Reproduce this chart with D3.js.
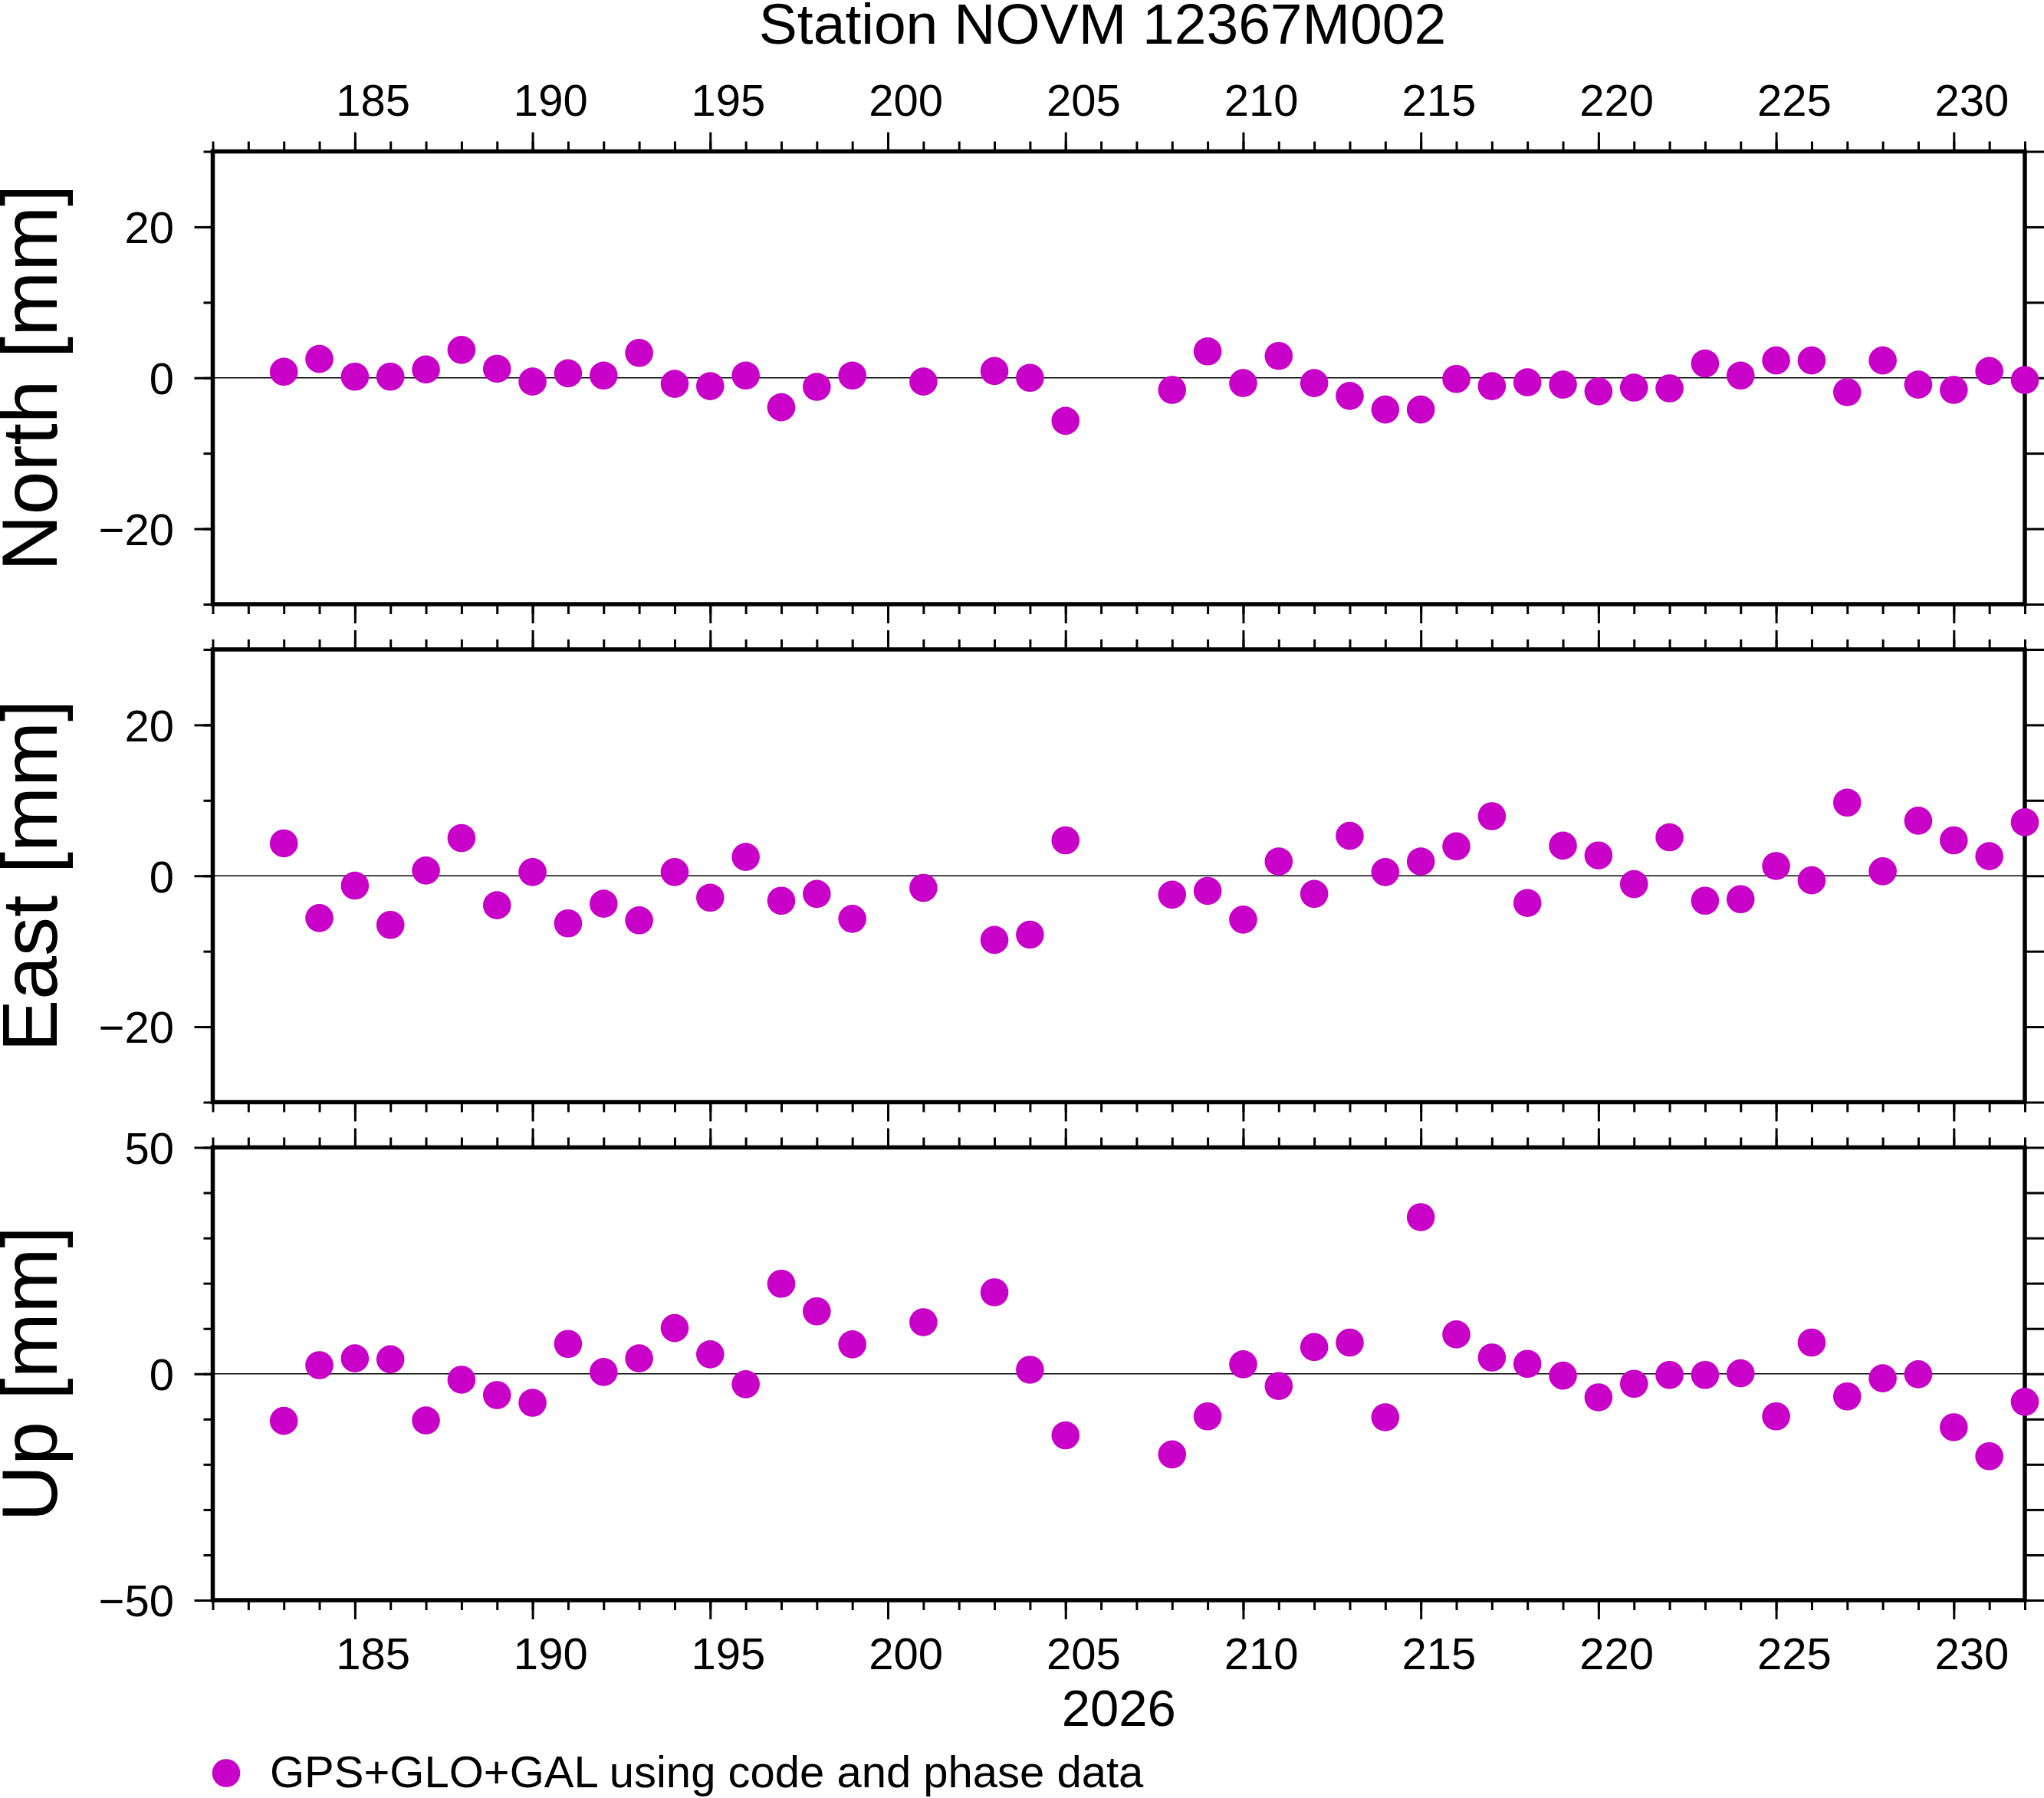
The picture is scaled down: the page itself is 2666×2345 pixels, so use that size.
<!DOCTYPE html>
<html>
<head>
<meta charset="utf-8">
<script src="https://cdn.jsdelivr.net/npm/d3@7"></script>
<style>
  body { margin: 0; background: #fff; }
  text { font-family: "Liberation Sans", Arial, Helvetica, sans-serif; fill: #000; }
</style>
</head>
<body>
<div id="graph"></div>
<script>
const width = 2666;
const height = 2345;

// day of year 2026
const days = [183, 184, 185, 186, 187, 188, 189, 190, 191, 192, 193, 194, 195, 196, 197, 198, 199,
    201, 203, 204, 205,
    208, 209, 210, 211, 212, 213, 214, 215, 216, 217, 218, 219, 220, 221, 222, 223, 224, 225, 226,
    227, 228, 229, 230, 231, 232];

const north = [0.8, 2.5, 0.15, 0.15, 1.1, 3.7, 1.2, -0.5, 0.6, 0.3, 3.3, -0.8, -1.1, 0.3, -3.9, -1.2, 0.3,
    -0.5, 0.9, 0.0, -5.7,
    -1.6, 3.5, -0.7, 2.9, -0.7, -2.4, -4.2, -4.2, -0.15, -1.1, -0.6, -0.9, -1.8, -1.3, -1.4, 1.9, 0.3, 2.3, 2.3,
    -1.9, 2.3, -0.9, -1.6, 0.9, -0.3];

const east = [4.3, -5.6, -1.3, -6.5, 0.7, 5.0, -3.9, 0.5, -6.3, -3.7, -5.9, 0.5, -2.9, 2.5, -3.3, -2.4, -5.7,
    -1.6, -8.5, -7.8, 4.7,
    -2.5, -2.0, -5.8, 1.9, -2.4, 5.3, 0.5, 1.9, 3.9, 7.9, -3.6, 4.0, 2.7, -1.1, 5.1, -3.3, -3.1, 1.3, -0.6,
    9.7, 0.6, 7.3, 4.7, 2.6, 7.1];

const up = [-10.4, 1.9, 3.4, 3.2, -10.3, -1.3, -4.7, -6.4, 6.6, 0.4, 3.4, 10.1, 4.3, -2.3, 19.9, 13.8, 6.5,
    11.4, 18.0, 0.9, -13.6,
    -17.8, -9.4, 2.1, -2.7, 5.9, 6.9, -9.6, 34.6, 8.7, 3.6, 2.2, -0.4, -5.2, -2.2, -0.25, -0.25, 0.1, -9.4, 6.9,
    -5.0, -1.0, -0.1, -11.8, -18.2, -6.2];

const dayRange = [181, 232];
const dayLabels = [185, 190, 195, 200, 205, 210, 215, 220, 225, 230];

const panelNames = ["North [mm]", "East [mm]", "Up [mm]"];
const panelValues = [north, east, up];
const panelDomains = [[-30, 30], [-30, 30], [-50, 50]];
const panelMajor = [[-20, 0, 20], [-20, 0, 20], [-50, 0, 50]];
const panelMinor = [[-30, -20, -10, 0, 10, 20, 30], [-30, -20, -10, 0, 10, 20, 30], d3.range(-50, 51, 10)];

const title = "Station NOVM 12367M002";
const yearLabel = "2026";
const legendLabel = "GPS+GLO+GAL using code and phase data";

const dotColor = "#c800c8";

const left = 277.5, right = 2641;
const panelTops = [197.5, 847, 1496.5];
const panelH = 590.5;

const svg = d3.select("#graph")
    .append("svg")
    .attr("width", width)
    .attr("height", height);

const x = d3.scaleLinear().domain(dayRange).range([left, right]);
const halfDay = (x(1) - x(0)) / 2;

function styleAxis(g) {
    g.select(".domain").remove();
    g.selectAll(".tick line").attr("stroke", "#000").attr("stroke-width", 3);
    g.selectAll(".tick text").attr("font-size", 58);
}

panelNames.forEach((name, i) => {
    const top = panelTops[i];
    const bottom = top + panelH;
    const y = d3.scaleLinear().domain(panelDomains[i]).range([bottom, top]);
    const g = svg.append("g");

    // x ticks, top and bottom of each panel
    const minorDays = d3.range(dayRange[0], dayRange[1] + 1);
    g.append("g").attr("transform", `translate(0,${top})`)
        .call(d3.axisTop(x).tickValues(minorDays).tickSize(13).tickFormat(""))
        .call(styleAxis);
    g.append("g").attr("transform", `translate(0,${bottom})`)
        .call(d3.axisBottom(x).tickValues(minorDays).tickSize(13).tickFormat(""))
        .call(styleAxis);

    const topMajor = g.append("g").attr("transform", `translate(0,${top})`)
        .call(d3.axisTop(x).tickValues(dayLabels).tickSize(25)
            .tickFormat(i === 0 ? d3.format("d") : ""))
        .call(styleAxis);
    topMajor.selectAll(".tick text").attr("x", halfDay).attr("y", -46.5).attr("dy", 0);

    const botMajor = g.append("g").attr("transform", `translate(0,${bottom})`)
        .call(d3.axisBottom(x).tickValues(dayLabels).tickSize(25)
            .tickFormat(i === 2 ? d3.format("d") : ""))
        .call(styleAxis);
    botMajor.selectAll(".tick text").attr("x", halfDay).attr("y", 90).attr("dy", 0);

    // y ticks
    g.append("g").attr("transform", `translate(${left},0)`)
        .call(d3.axisLeft(y).tickValues(panelMinor[i]).tickSize(12).tickFormat(""))
        .call(styleAxis);
    const yMajor = g.append("g").attr("transform", `translate(${left},0)`)
        .call(d3.axisLeft(y).tickValues(panelMajor[i]).tickSize(24).tickPadding(26.5))
        .call(styleAxis);
    yMajor.selectAll(".tick text").attr("dy", "0.36em");
    g.append("g").attr("transform", `translate(${right},0)`)
        .call(d3.axisRight(y).tickValues(panelMinor[i]).tickSize(25).tickFormat(""))
        .call(styleAxis);

    // zero line
    g.append("line")
        .attr("x1", left).attr("x2", right)
        .attr("y1", y(0)).attr("y2", y(0))
        .attr("stroke", "#000")
        .attr("stroke-width", 1.5);

    // frame
    g.append("rect")
        .attr("x", left).attr("y", top)
        .attr("width", right - left).attr("height", panelH)
        .attr("fill", "none")
        .attr("stroke", "#000")
        .attr("stroke-width", 5.5);

    // points
    g.selectAll("circle.pt")
        .data(days.map((d, k) => ({ day: d, v: panelValues[i][k] })))
        .join("circle")
        .attr("class", "pt")
        .attr("cx", d => x(d.day))
        .attr("cy", d => y(d.v))
        .attr("r", 18.3)
        .attr("fill", dotColor);

    // y label
    g.append("text")
        .attr("transform", `translate(74,${(top + bottom) / 2}) rotate(-90)`)
        .attr("text-anchor", "middle")
        .attr("font-size", 102)
        .text(name);
});

svg.append("text")
    .attr("x", 1438)
    .attr("y", 57)
    .attr("text-anchor", "middle")
    .attr("font-size", 75)
    .text(title);

svg.append("text")
    .attr("x", (left + right) / 2)
    .attr("y", 2251)
    .attr("text-anchor", "middle")
    .attr("font-size", 67)
    .text(yearLabel);

svg.append("circle")
    .attr("cx", 295)
    .attr("cy", 2312.5)
    .attr("r", 18.3)
    .attr("fill", dotColor);

svg.append("text")
    .attr("x", 352)
    .attr("y", 2331)
    .attr("font-size", 58)
    .text(legendLabel);
</script>
</body>
</html>
